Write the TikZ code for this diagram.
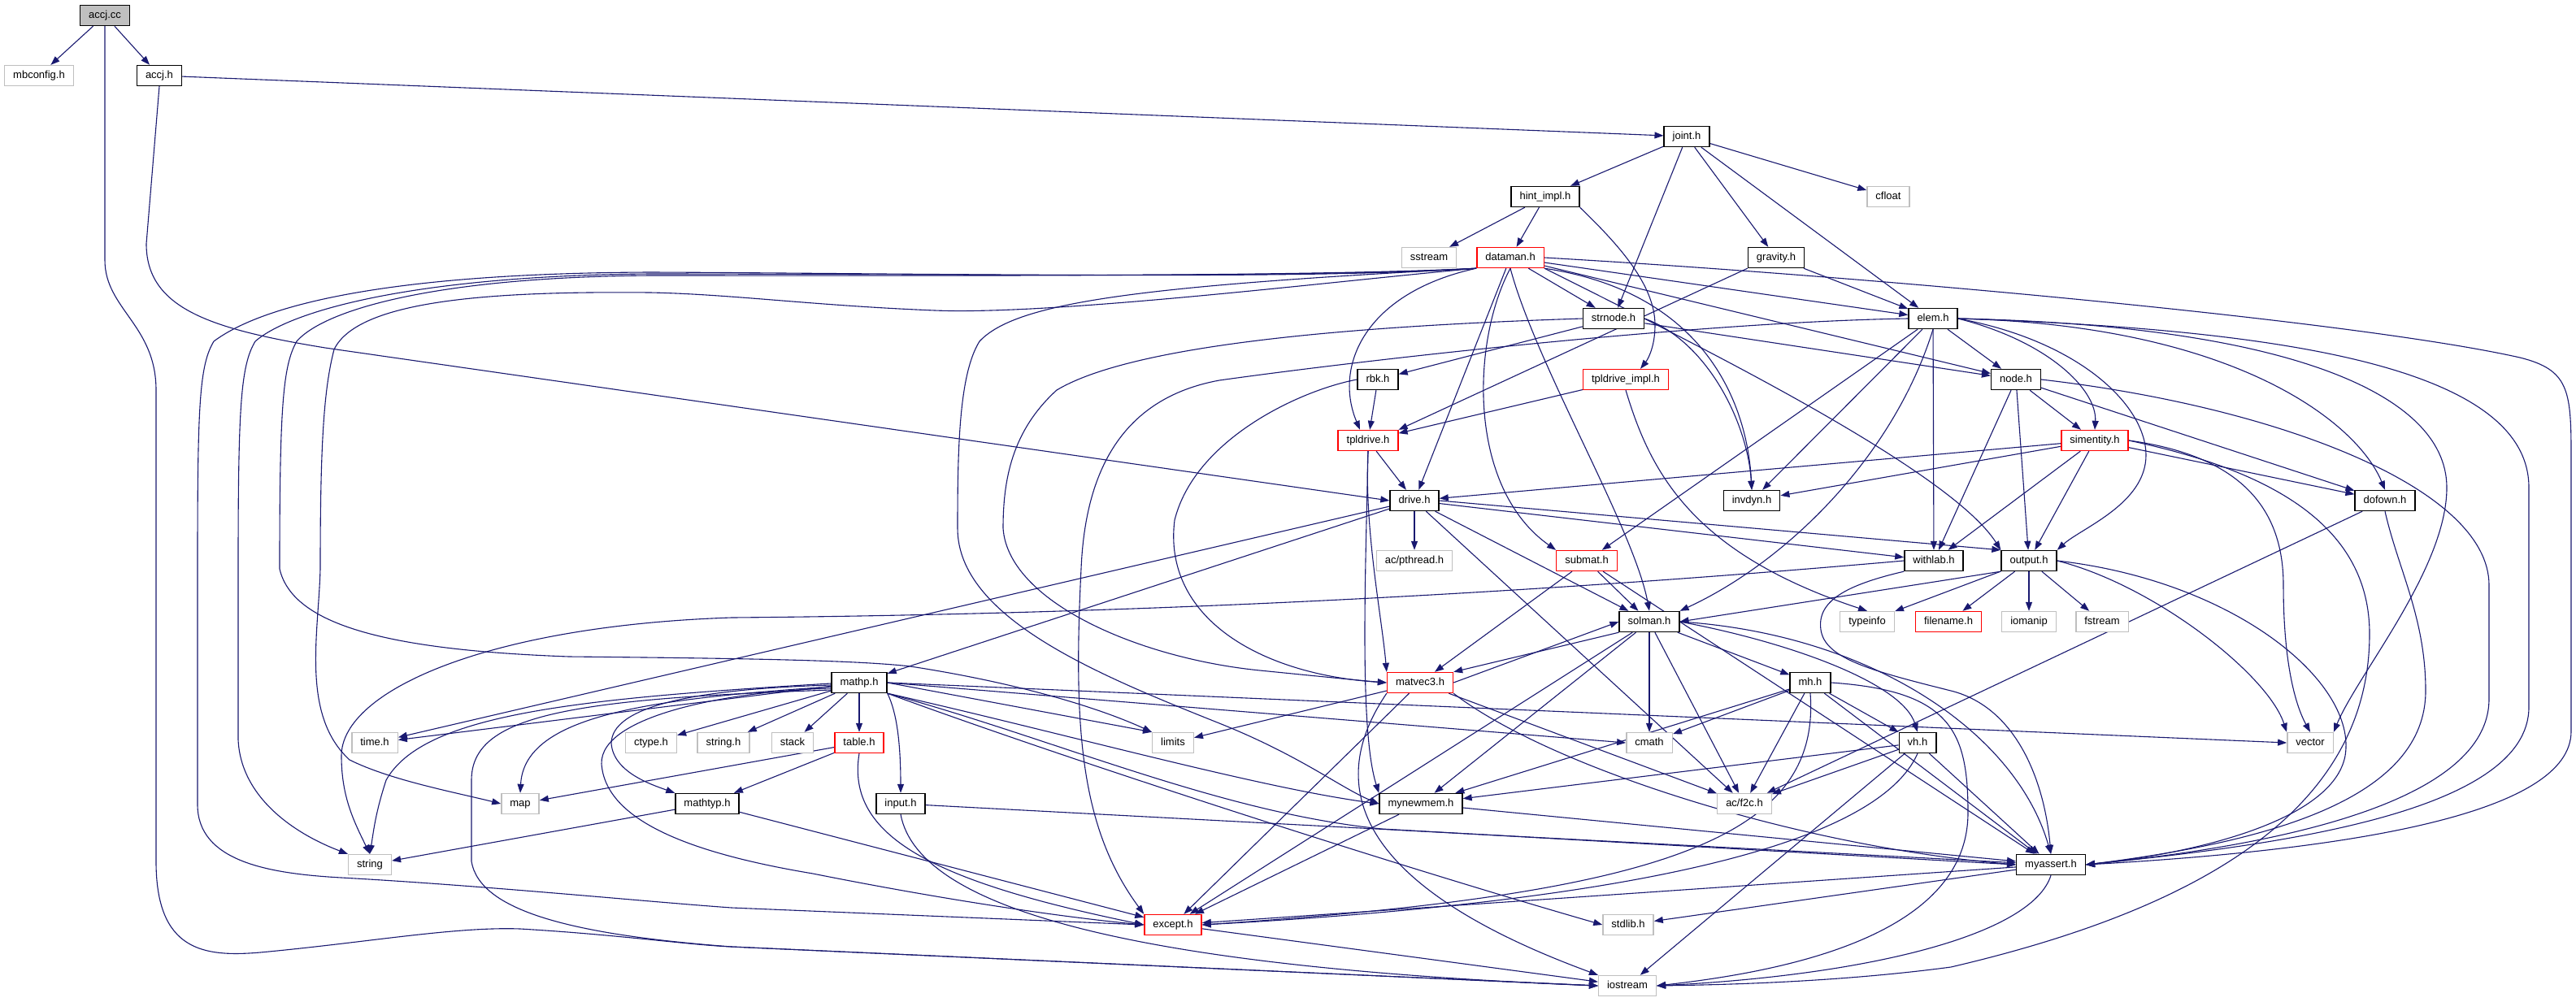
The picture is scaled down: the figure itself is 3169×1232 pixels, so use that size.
\documentclass[tikz,border=0pt]{standalone}
\usepackage{fontspec}
\setmainfont{Liberation Sans}
\usetikzlibrary{arrows.meta,backgrounds}
\definecolor{edgeblue}{HTML}{191970}
\definecolor{extgray}{HTML}{BFBFBF}
\tikzset{
  hdr/.style={draw=black,line width=1.4pt,fill=white,inner xsep=10.5pt,inner ysep=0pt,
    minimum height=25pt,text height=9.5pt,text depth=3pt,font=\fontsize{13}{15}\selectfont},
  ext/.style={hdr,draw=extgray},
  trunc/.style={hdr,draw=red},
  root/.style={hdr,fill=extgray},
  dep/.style={draw=edgeblue,line width=1.1pt,-{Triangle[length=11pt,width=8pt]}}
}
\begin{document}
\begin{tikzpicture}[x=1pt,y=-1pt]
\useasboundingbox (0,0) rectangle (3169,1232);
\node[root] (accjcc) at (129,19) {accj.cc};
\node[ext] (mbconfig) at (48,93) {mbconfig.h};
\node[hdr] (accjh) at (196,93) {accj.h};
\node[hdr] (joint) at (2075,168) {joint.h};
\node[hdr] (hintimpl) at (1901,242) {hint\_impl.h};
\node[ext] (cfloat) at (2323,242) {cfloat};
\node[ext] (sstream) at (1758,317) {sstream};
\node[trunc] (dataman) at (1858,317) {dataman.h};
\node[hdr] (gravity) at (2185,317) {gravity.h};
\node[hdr] (strnode) at (1985,392) {strnode.h};
\node[hdr] (elem) at (2378,392) {elem.h};
\node[hdr] (rbk) at (1695,467) {rbk.h};
\node[trunc] (tplimpl) at (2000,467) {tpldrive\_impl.h};
\node[hdr] (nodeh) at (2480,467) {node.h};
\node[trunc] (tpldrive) at (1683,542) {tpldrive.h};
\node[trunc] (simentity) at (2577,542) {simentity.h};
\node[hdr] (drive) at (1740,616) {drive.h};
\node[hdr] (invdyn) at (2155,616) {invdyn.h};
\node[hdr] (dofown) at (2934,616) {dofown.h};
\node[ext] (pthread) at (1740,690) {ac/pthread.h};
\node[trunc] (submat) at (1952,690) {submat.h};
\node[hdr] (withlab) at (2379,690) {withlab.h};
\node[hdr] (output) at (2496,690) {output.h};
\node[hdr] (solman) at (2029,765) {solman.h};
\node[ext] (typeinfo) at (2297,765) {typeinfo};
\node[trunc] (filename) at (2397,765) {filename.h};
\node[ext] (iomanip) at (2496,765) {iomanip};
\node[ext] (fstream) at (2586,765) {fstream};
\node[hdr] (mathp) at (1057,840) {mathp.h};
\node[trunc] (matvec) at (1747,840) {matvec3.h};
\node[hdr] (mh) at (2227,840) {mh.h};
\node[ext] (timeh) at (461,914) {time.h};
\node[ext] (ctype) at (801,914) {ctype.h};
\node[ext] (stringh) at (890,914) {string.h};
\node[ext] (stack) at (975,914) {stack};
\node[trunc] (table) at (1057,914) {table.h};
\node[ext] (limits) at (1443,914) {limits};
\node[ext] (cmath) at (2029,914) {cmath};
\node[hdr] (vh) at (2359,914) {vh.h};
\node[ext] (vector) at (2842,914) {vector};
\node[ext] (map) at (640,989) {map};
\node[hdr] (mathtyp) at (870,989) {mathtyp.h};
\node[hdr] (input) at (1108,989) {input.h};
\node[hdr] (mynewmem) at (1748,989) {mynewmem.h};
\node[ext] (ftoc) at (2146,989) {ac/f2c.h};
\node[ext] (string) at (455,1064) {string};
\node[hdr] (myassert) at (2523,1064) {myassert.h};
\node[trunc] (except) at (1443,1138) {except.h};
\node[ext] (stdlib) at (2003,1138) {stdlib.h};
\node[ext] (iostream) at (2002,1213) {iostream};
\begin{scope}[on background layer]
\fill[white] (0,0) rectangle (3169,1232);
\draw[dep] (accjcc) -- (mbconfig);
\draw[dep] (accjcc) -- (accjh);
\draw[dep] (accjcc.south) -- (129,320) .. controls (129,380) and (192,400) .. (192,480) -- (192,1060) .. controls (192,1170) and (250,1178) .. (320,1172) .. controls (450,1160) and (560,1140) .. (640,1143) .. controls (760,1150) and (850,1163) .. (900,1165) -- (iostream.west);
\draw[dep] (accjh) -- (joint);
\draw[dep] (accjh.south) -- (180,300) .. controls (180,380) and (260,405) .. (400,428) -- (drive.west);
\draw[dep] (joint) -- (hintimpl);
\draw[dep] (joint) -- (cfloat);
\draw[dep] (joint) -- (gravity);
\draw[dep] (joint) -- (strnode);
\draw[dep] (joint) -- (elem);
\draw[dep] (hintimpl) -- (sstream);
\draw[dep] (hintimpl) -- (dataman);
\draw[dep] (hintimpl.south east) .. controls (1990,300) and (2036,350) .. (2036,400) .. controls (2036,430) and (2025,445) .. ([xshift=18pt]tplimpl.north);
\draw[dep] (gravity) -- (elem);
\draw[dep] (gravity.south west) -- (tpldrive.north east);
\draw[dep] (dataman) -- (strnode);
\draw[dep] (dataman) -- (elem);
\draw[dep] (dataman) -- (nodeh);
\draw[dep] (dataman.south west) .. controls (1680,360) and (1640,450) .. ([xshift=-10pt]tpldrive.north);
\draw[dep] (dataman) -- (drive);
\draw[dep] (dataman.south) .. controls (1810,420) and (1805,600) .. (submat.north west);
\draw[dep] (dataman.south) .. controls (1890,450) and (2010,650) .. (solman.north);
\draw[dep] (dataman.south east) .. controls (2100,430) and (2400,580) .. (output.north west);
\draw[dep] (dataman.south east) .. controls (2100,360) and (2150,500) .. (invdyn.north);
\draw[dep] (dataman.south west) .. controls (1400,352) and (1250,372) .. (1205,420) .. controls (1180,460) and (1178,550) .. (1178,650) .. controls (1178,760) and (1350,830) .. (1500,890) .. controls (1600,930) and (1650,970) .. (mynewmem.west);
\draw[dep] (dataman.south west) .. controls (1600,345) and (1100,336) .. (800,335) .. controls (500,336) and (330,370) .. (263,420) .. controls (245,450) and (243,500) .. (243,700) -- (243,990) .. controls (243,1060) and (330,1075) .. (420,1080) .. controls (600,1090) and (800,1110) .. (900,1117) -- (except.west);
\draw[dep] (dataman.south west) .. controls (1600,343) and (1100,337) .. (800,337) .. controls (520,339) and (360,380) .. (314,420) .. controls (296,450) and (293,500) .. (293,700) -- (293,910) .. controls (296,980) and (360,1025) .. (string.north west);
\draw[dep] (dataman.south west) .. controls (1600,341) and (1100,339) .. (800,339) .. controls (540,341) and (400,380) .. (365,420) .. controls (348,450) and (344,500) .. (344,700) .. controls (360,770) and (480,800) .. (700,808) .. controls (900,810) and (1050,812) .. (1120,820) .. controls (1250,840) and (1350,870) .. (limits.north west);
\draw[dep] (dataman.south west) .. controls (1650,345) and (1300,388) .. (1150,382) .. controls (1000,376) and (900,362) .. (800,360) .. controls (600,358) and (440,370) .. (411,430) .. controls (398,480) and (394,550) .. (394,700) .. controls (392,780) and (370,880) .. (430,935) .. controls (480,960) and (560,975) .. (map.west);
\draw[dep] (dataman.east) .. controls (2300,340) and (2900,395) .. (3100,440) .. controls (3160,455) and (3163,480) .. (3163,560) -- (3163,900) .. controls (3163,1000) and (2900,1045) .. (myassert.east);
\draw[dep] (strnode) -- (rbk);
\draw[dep] (strnode) -- (nodeh);
\draw[dep] (strnode.east) .. controls (2100,420) and (2150,520) .. (invdyn.north);
\draw[dep] (strnode.west) .. controls (1700,400) and (1400,420) .. (1300,480) .. controls (1245,530) and (1234,590) .. (1234,650) .. controls (1240,740) and (1400,810) .. (1550,825) .. controls (1620,832) and (1680,838) .. (matvec.west);
\draw[dep] (elem) -- (nodeh);
\draw[dep] (elem.east) .. controls (2520,420) and (2580,480) .. (simentity.north);
\draw[dep] (elem) -- (withlab);
\draw[dep] (elem.east) .. controls (2560,420) and (2640,500) .. (2640,560) .. controls (2640,620) and (2560,650) .. (output.north east);
\draw[dep] (elem.east) .. controls (2750,400) and (2900,520) .. (dofown.north);
\draw[dep] (elem) -- (invdyn);
\draw[dep] (elem) -- (submat);
\draw[dep] (elem.south) .. controls (2330,560) and (2200,690) .. (solman.north east);
\draw[dep] (elem.east) .. controls (2800,400) and (3010,480) .. (3010,600) .. controls (3010,700) and (2900,830) .. (vector.north east);
\draw[dep] (elem.east) .. controls (2800,405) and (3111,450) .. (3111,600) -- (3111,870) .. controls (3111,1000) and (2800,1040) .. (myassert.east);
\draw[dep] (elem.west) .. controls (2100,396) and (1700,440) .. (1500,468) .. controls (1380,490) and (1335,580) .. (1330,700) .. controls (1320,900) and (1330,1020) .. (except.north west);
\draw[dep] (rbk) -- (tpldrive);
\draw[dep] (rbk.west) .. controls (1600,480) and (1470,540) .. (1445,640) .. controls (1430,760) and (1550,830) .. (matvec.west);
\draw[dep] (tplimpl) -- (tpldrive);
\draw[dep] (tplimpl.south) .. controls (2030,580) and (2080,680) .. (typeinfo.north);
\draw[dep] (nodeh) -- (simentity);
\draw[dep] (nodeh) -- (withlab);
\draw[dep] (nodeh) -- (output);
\draw[dep] (nodeh) -- (dofown);
\draw[dep] (nodeh.east) .. controls (2800,500) and (3062,600) .. (3062,720) -- (3062,860) .. controls (3062,960) and (2900,1030) .. (myassert.east);
\draw[dep] (tpldrive) -- (drive);
\draw[dep] (tpldrive.south) .. controls (1678,650) and (1700,760) .. (matvec.north west);
\draw[dep] (tpldrive.south) .. controls (1680,700) and (1672,900) .. (mynewmem.north west);
\draw[dep] (simentity) -- (drive);
\draw[dep] (simentity) -- (invdyn);
\draw[dep] (simentity) -- (withlab);
\draw[dep] (simentity) -- (output);
\draw[dep] (simentity) -- (dofown);
\draw[dep] (simentity.east) .. controls (2750,560) and (2809,620) .. (2809,720) .. controls (2809,820) and (2825,870) .. (vector.north);
\draw[dep] (simentity.east) .. controls (2800,580) and (2915,650) .. (2915,780) .. controls (2915,1000) and (2700,1120) .. (2400,1190) .. controls (2250,1210) and (2100,1212) .. (iostream.east);
\draw[dep] (drive) -- (pthread);
\draw[dep] (drive) -- (mathp);
\draw[dep] (drive) -- (timeh);
\draw[dep] (drive) -- (withlab);
\draw[dep] (drive.east) -- (output.north west);
\draw[dep] (drive) -- (solman);
\draw[dep] (drive) -- (ftoc);
\draw[dep] (dofown) -- (ftoc);
\draw[dep] (dofown.south) .. controls (2950,700) and (2984,760) .. (2984,850) .. controls (2984,980) and (2800,1035) .. (myassert.east);
\draw[dep] (submat) -- (solman);
\draw[dep] (submat) -- (matvec);
\draw[dep] (submat) -- (myassert);
\draw[dep] (withlab.west) .. controls (2000,720) and (1500,755) .. (900,760) .. controls (600,770) and (420,850) .. (420,930) .. controls (420,980) and (435,1010) .. (string.north);
\draw[dep] (withlab.south west) .. controls (2270,720) and (2235,740) .. (2240,775) .. controls (2245,810) and (2300,825) .. (2400,850) .. controls (2480,870) and (2515,960) .. (myassert.north);
\draw[dep] (output) -- (typeinfo);
\draw[dep] (output) -- (filename);
\draw[dep] (output) -- (iomanip);
\draw[dep] (output) -- (fstream);
\draw[dep] (output.south west) -- (solman.east);
\draw[dep] (output.east) .. controls (2650,720) and (2790,830) .. (vector.north west);
\draw[dep] (output.east) .. controls (2750,715) and (2900,840) .. (2885,930) .. controls (2870,1010) and (2700,1050) .. (myassert.east);
\draw[dep] (solman.south west) -- (matvec.north east);
\draw[dep] (matvec.east) -- (solman.west);
\draw[dep] (solman) -- (mynewmem);
\draw[dep] (solman) -- (ftoc);
\draw[dep] (solman) -- (cmath);
\draw[dep] (solman) -- (mh);
\draw[dep] (solman.east) .. controls (2200,790) and (2340,840) .. (vh.north);
\draw[dep] (solman.east) .. controls (2300,780) and (2480,900) .. (myassert.north);
\draw[dep] (solman) -- (except);
\draw[dep] (matvec) -- (limits);
\draw[dep] (matvec) -- (except);
\draw[dep] (matvec) -- (ftoc);
\draw[dep] (matvec.south east) .. controls (1900,940) and (2200,1040) .. (myassert.west);
\draw[dep] (matvec.south west) .. controls (1640,950) and (1640,1080) .. (iostream.north west);
\draw[dep] (mh) -- (cmath);
\draw[dep] (mh) -- (mynewmem);
\draw[dep] (mh) -- (ftoc);
\draw[dep] (mh) -- (vh);
\draw[dep] (mh) -- (myassert);
\draw[dep] (mh.south) .. controls (2240,1030) and (2050,1100) .. (except.east);
\draw[dep] (mh.east) .. controls (2400,850) and (2421,900) .. (2421,1000) .. controls (2421,1150) and (2200,1195) .. (iostream.east);
\draw[dep] (vh) -- (mynewmem);
\draw[dep] (vh) -- (ftoc);
\draw[dep] (vh) -- (myassert);
\draw[dep] (vh.south) .. controls (2300,1060) and (1900,1115) .. (except.east);
\draw[dep] (vh) -- (iostream);
\draw[dep] (mathp) -- (timeh);
\draw[dep] (mathp) -- (ctype);
\draw[dep] (mathp) -- (stringh);
\draw[dep] (mathp) -- (stack);
\draw[dep] (mathp) -- (table);
\draw[dep] (mathp.south east) .. controls (1100,870) and (1108,900) .. (input.north);
\draw[dep] (mathp.east) -- (limits.north west);
\draw[dep] (mathp.east) -- (cmath.west);
\draw[dep] (mathp.east) -- (vector.west);
\draw[dep] (mathp.south east) .. controls (1300,900) and (1550,970) .. (mynewmem.west);
\draw[dep] (mathp.south east) .. controls (1300,910) and (1500,1000) .. (1700,1020) -- (myassert.west);
\draw[dep] (mathp.south east) .. controls (1300,930) and (1700,1060) .. (stdlib.west);
\draw[dep] ([yshift=-3pt]mathp.west) .. controls (850,848) and (752,870) .. (752,915) .. controls (755,950) and (800,965) .. (mathtyp.north west);
\draw[dep] ([yshift=-5pt]mathp.west) .. controls (800,860) and (645,880) .. (map.north);
\draw[dep] ([yshift=-1pt]mathp.west) .. controls (700,860) and (520,880) .. (475,960) .. controls (462,1000) and (460,1020) .. (string.north);
\draw[dep] ([yshift=-7pt]mathp.west) .. controls (900,850) and (738,880) .. (740,940) .. controls (745,1010) and (850,1050) .. (1000,1075) .. controls (1150,1105) and (1300,1128) .. (except.west);
\draw[dep] ([yshift=-9pt]mathp.west) .. controls (700,860) and (580,880) .. (580,960) -- (580,1060) .. controls (590,1120) and (700,1150) .. (900,1165) -- (iostream.west);
\draw[dep] (table) -- (map);
\draw[dep] (table) -- (mathtyp);
\draw[dep] (table.south) .. controls (1040,1030) and (1150,1085) .. (except.west);
\draw[dep] (mathtyp) -- (string);
\draw[dep] (mathtyp) -- (except);
\draw[dep] (input) -- (myassert);
\draw[dep] (input.south) .. controls (1130,1120) and (1400,1190) .. (iostream.west);
\draw[dep] (mynewmem) -- (except);
\draw[dep] (mynewmem) -- (myassert);
\draw[dep] (myassert) -- (except);
\draw[dep] (myassert) -- (stdlib);
\draw[dep] (myassert.south) .. controls (2500,1150) and (2300,1200) .. (iostream.east);
\draw[dep] (except) -- (iostream);
\end{scope}
\end{tikzpicture}
\end{document}
